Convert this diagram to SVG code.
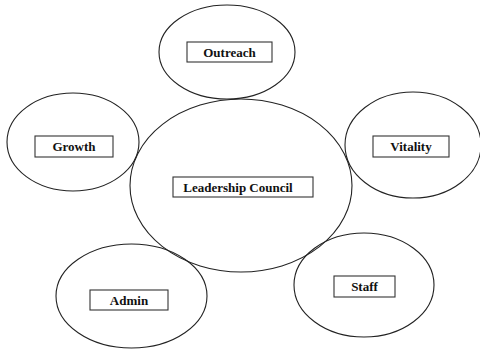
<svg xmlns="http://www.w3.org/2000/svg" width="480" height="350" viewBox="0 0 480 350">
<style>
.c{fill:none;stroke:#222;stroke-width:1.1}
.b{fill:#fff;stroke:#333;stroke-width:1.1}
.t{font-family:"Liberation Serif","Times New Roman",serif;font-weight:bold;font-size:13px;fill:#111;text-anchor:middle;dominant-baseline:central}
</style>
<rect width="480" height="350" fill="#fff"/>
<g id="connectors"></g>
<g id="outreach"><ellipse class="c" cx="227" cy="52" rx="68" ry="47"/><rect class="b" x="187" y="42" width="85" height="20"/><text class="t" x="229.5" y="52">Outreach</text></g>
<g id="growth"><ellipse class="c" cx="73" cy="142" rx="66" ry="49"/><rect class="b" x="35" y="136" width="78" height="21"/><text class="t" x="74" y="146.5">Growth</text></g>
<g id="vitality"><ellipse class="c" cx="413" cy="145" rx="68" ry="53"/><rect class="b" x="373" y="136" width="76" height="21"/><text class="t" x="411" y="146.5">Vitality</text></g>
<g id="admin"><ellipse class="c" cx="131.5" cy="296" rx="75.5" ry="52"/><rect class="b" x="90" y="290" width="78" height="20"/><text class="t" x="129" y="300">Admin</text></g>
<g id="staff"><ellipse class="c" cx="364" cy="285" rx="70" ry="52"/><rect class="b" x="334" y="276" width="61" height="21"/><text class="t" x="364.5" y="286.5">Staff</text></g>
<g id="leadership"><ellipse class="c" cx="241" cy="185.5" rx="111" ry="86.5"/><rect class="b" x="173" y="177" width="140" height="20"/><text class="t" x="238" y="187">Leadership Council</text></g>
</svg>
